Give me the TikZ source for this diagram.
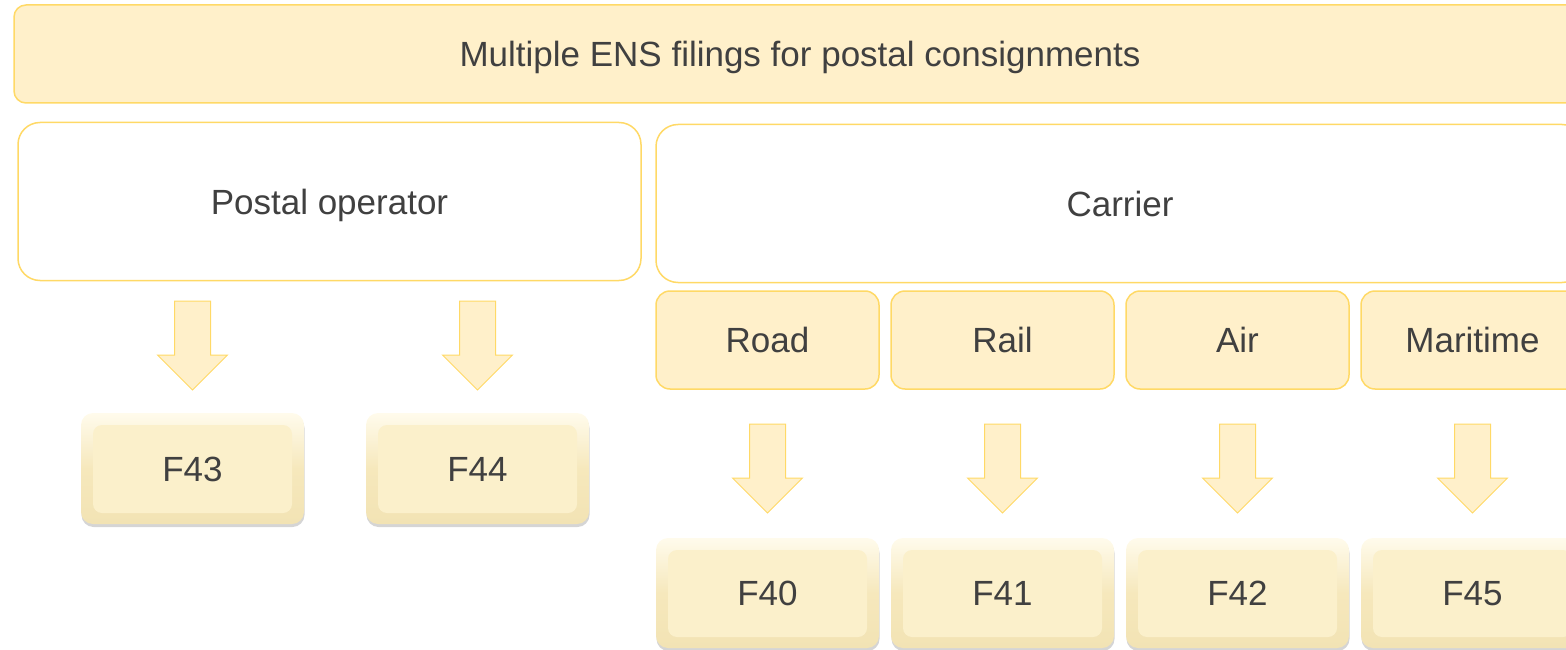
\documentclass[tikz,border=0pt]{standalone}
\usepackage{fontspec}
\setmainfont{Liberation Sans}
\usetikzlibrary{shadows,calc}
\definecolor{gold}{HTML}{FFD966}
\definecolor{cream}{HTML}{FFF0CA}
\definecolor{txt}{HTML}{404040}
\definecolor{bevtop}{HTML}{FFFBEC}
\definecolor{bevside}{HTML}{F6E8BC}
\definecolor{bevbot}{HTML}{F2E3B4}
\definecolor{bevmid}{HTML}{FBF0CB}
\begin{document}
\begin{tikzpicture}[x=1pt,y=-1pt,
  every node/.style={font=\fontsize{35}{40}\selectfont, text=txt, inner sep=0pt,
    text height=25pt, text depth=0pt},
  titlebox/.style={draw=gold, line width=1.5pt, fill=cream, rounded corners=12pt,
    minimum width=1572pt, minimum height=98pt},
  rolebox/.style={draw=gold, line width=1.5pt, fill=white, rounded corners=22pt,
    minimum height=158pt},
  modebox/.style={draw=gold, line width=1.5pt, fill=cream, rounded corners=14pt,
    minimum width=223pt, minimum height=98pt},
  formbox/.style={rounded corners=12pt, minimum width=223pt, minimum height=110pt,
    top color=bevtop, bottom color=bevbot, middle color=bevside,
    drop shadow={opacity=0.3, shadow xshift=0.5pt, shadow yshift=-3pt, fill=black!55},
    path picture={
      \fill[bevmid, rounded corners=9pt]
        ([shift={(12pt,-12pt)}]path picture bounding box.north west) rectangle
        ([shift={(-12pt,11pt)}]path picture bounding box.south east);}},
  arrowstyle/.style={draw=gold, line width=1pt, fill=cream, line join=miter},
  downarrow/.pic={\path[arrowstyle] (-18,0) -- (18,0) -- (18,54) -- (35,54) -- (0,89)
      -- (-35,54) -- (-18,54) -- cycle;}
]
\useasboundingbox (0,0) rectangle (1566,650);
\clip (0,0) rectangle (1566,650);

\node[titlebox] (title) at (800,54) {Multiple ENS filings for postal consignments};

\node[rolebox, minimum width=623pt] (po) at (329.5,201.5) {Postal operator};
\node[rolebox, minimum width=928pt] (carrier) at (1120,203.5) {Carrier};

\node[modebox] (road) at (767.5,340) {Road};
\node[modebox] (rail) at (1002.5,340) {Rail};
\node[modebox] (air) at (1237.5,340) {Air};
\node[modebox] (sea) at (1472.5,340) {Maritime};

\node[formbox, minimum height=111pt] (f43) at (192.5,468.5) {F43};
\node[formbox, minimum height=111pt] (f44) at (477.5,468.5) {F44};

\node[formbox] (f40) at (767.5,593) {F40};
\node[formbox] (f41) at (1002.5,593) {F41};
\node[formbox] (f42) at (1237.5,593) {F42};
\node[formbox] (f45) at (1472.5,593) {F45};

\coordinate (r1) at (0,301);
\coordinate (r2) at (0,424);
\pic at (f43.north |- r1) {downarrow};
\pic at (f44.north |- r1) {downarrow};
\pic at (f40.north |- r2) {downarrow};
\pic at (f41.north |- r2) {downarrow};
\pic at (f42.north |- r2) {downarrow};
\pic at (f45.north |- r2) {downarrow};
\end{tikzpicture}
\end{document}
